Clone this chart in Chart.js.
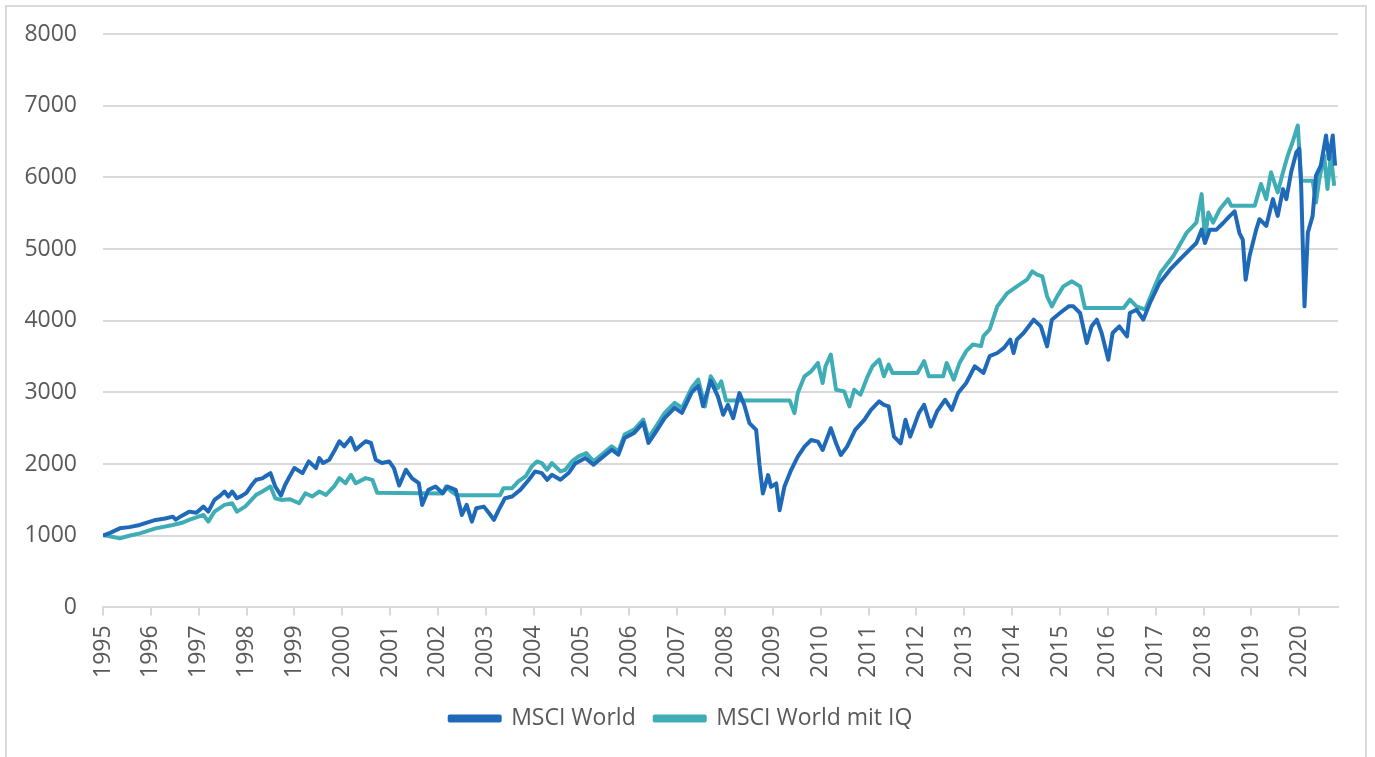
<!DOCTYPE html>
<html>
<head>
<meta charset="utf-8">
<script src="https://cdn.jsdelivr.net/npm/chart.js@4/dist/chart.umd.min.js"></script>
<style>
html,body{margin:0;padding:0;background:#fff;}
#wrap{position:relative;width:1375px;height:757px;overflow:hidden;}
#frame{position:absolute;left:5px;top:5px;width:1362px;height:800px;border:2px solid #d9d9d9;box-sizing:border-box;}
canvas{position:absolute;left:0;top:0;}
</style>
</head>
<body>
<div id="wrap"><div id="frame"></div><canvas id="c" width="1375" height="757"></canvas></div>
<script>
// ---- Data ----
const seriesNames = ["MSCI World", "MSCI World mit IQ"];

const worldDates = [1995.00,1995.15,1995.35,1995.55,1995.77,1995.95,1996.10,1996.30,1996.46,1996.52,1996.65,1996.80,1996.95,1997.10,1997.20,1997.33,1997.45,1997.54,1997.62,1997.70,1997.80,1997.90,1998.00,1998.10,1998.20,1998.33,1998.42,1998.50,1998.60,1998.72,1998.80,1998.90,1999.00,1999.17,1999.30,1999.45,1999.52,1999.60,1999.73,1999.83,1999.94,2000.04,2000.18,2000.28,2000.40,2000.49,2000.60,2000.70,2000.83,2000.98,2001.08,2001.19,2001.33,2001.46,2001.60,2001.67,2001.80,2001.95,2002.10,2002.20,2002.37,2002.50,2002.60,2002.71,2002.80,2002.96,2003.07,2003.17,2003.27,2003.40,2003.55,2003.72,2003.90,2004.03,2004.17,2004.28,2004.38,2004.56,2004.73,2004.87,2005.08,2005.25,2005.42,2005.63,2005.77,2005.90,2006.10,2006.29,2006.40,2006.54,2006.74,2006.95,2007.10,2007.30,2007.44,2007.54,2007.70,2007.85,2007.96,2008.06,2008.17,2008.30,2008.40,2008.51,2008.65,2008.72,2008.79,2008.90,2008.96,2009.07,2009.14,2009.24,2009.38,2009.52,2009.66,2009.80,2009.94,2010.04,2010.21,2010.32,2010.42,2010.55,2010.72,2010.91,2011.05,2011.22,2011.32,2011.42,2011.53,2011.67,2011.77,2011.87,2012.05,2012.16,2012.30,2012.43,2012.60,2012.74,2012.87,2013.04,2013.22,2013.40,2013.53,2013.69,2013.83,2013.96,2014.03,2014.10,2014.24,2014.45,2014.60,2014.73,2014.83,2015.00,2015.18,2015.28,2015.42,2015.56,2015.66,2015.77,2015.87,2016.01,2016.10,2016.24,2016.40,2016.46,2016.60,2016.74,2016.88,2017.08,2017.30,2017.50,2017.71,2017.85,2017.96,2018.03,2018.13,2018.27,2018.41,2018.54,2018.65,2018.75,2018.82,2018.88,2018.96,2019.10,2019.17,2019.31,2019.45,2019.55,2019.66,2019.73,2019.83,2019.94,2020.00,2020.04,2020.11,2020.18,2020.28,2020.35,2020.45,2020.56,2020.62,2020.70,2020.75];
const worldValues = [1000,1040,1103,1120,1150,1190,1220,1240,1266,1225,1280,1336,1320,1406,1336,1500,1560,1617,1547,1617,1523,1556,1600,1700,1780,1800,1840,1874,1687,1560,1700,1827,1944,1874,2037,1944,2084,2014,2060,2177,2318,2248,2364,2200,2270,2318,2294,2060,2014,2037,1944,1700,1920,1800,1734,1430,1640,1687,1593,1687,1640,1290,1430,1196,1383,1406,1313,1220,1360,1523,1547,1640,1780,1897,1874,1780,1850,1780,1874,2009,2084,1990,2084,2200,2130,2364,2434,2575,2294,2434,2645,2785,2715,2996,3090,2808,3160,2944,2687,2827,2640,2990,2827,2570,2477,1986,1589,1846,1682,1729,1355,1682,1916,2103,2243,2336,2313,2196,2500,2290,2126,2243,2477,2617,2757,2874,2827,2804,2383,2290,2617,2383,2710,2827,2523,2734,2897,2757,2990,3131,3364,3271,3505,3549,3621,3735,3549,3738,3828,4014,3921,3642,4014,4107,4200,4200,4107,3688,3921,4014,3828,3456,3828,3921,3781,4107,4153,4014,4247,4526,4712,4851,4991,5084,5270,5084,5270,5270,5363,5456,5526,5223,5130,4572,4898,5270,5416,5322,5696,5463,5836,5696,6070,6350,6400,5883,4200,5229,5463,6023,6163,6584,6257,6584,6163];

const iqDates = [1995.00,1995.35,1995.55,1995.77,1996.10,1996.46,1996.65,1996.80,1997.10,1997.20,1997.33,1997.54,1997.70,1997.80,1997.97,1998.20,1998.33,1998.50,1998.60,1998.72,1998.90,1999.10,1999.23,1999.37,1999.52,1999.66,1999.83,1999.94,2000.07,2000.18,2000.28,2000.49,2000.63,2000.73,2002.10,2002.17,2002.28,2002.40,2003.30,2003.37,2003.55,2003.68,2003.83,2003.96,2004.07,2004.17,2004.28,2004.38,2004.56,2004.66,2004.80,2004.94,2005.10,2005.25,2005.42,2005.63,2005.77,2005.90,2006.10,2006.29,2006.40,2006.54,2006.74,2006.95,2007.10,2007.30,2007.44,2007.58,2007.70,2007.85,2007.92,2008.02,2009.35,2009.45,2009.52,2009.66,2009.80,2009.94,2010.04,2010.10,2010.21,2010.32,2010.49,2010.60,2010.70,2010.83,2010.98,2011.08,2011.22,2011.32,2011.42,2011.50,2012.02,2012.16,2012.26,2012.56,2012.63,2012.78,2012.90,2013.04,2013.18,2013.35,2013.40,2013.53,2013.69,2013.90,2014.10,2014.31,2014.42,2014.52,2014.63,2014.73,2014.83,2014.94,2015.07,2015.25,2015.42,2015.52,2016.33,2016.46,2016.60,2016.78,2016.95,2017.10,2017.37,2017.65,2017.85,2017.96,2018.03,2018.10,2018.20,2018.34,2018.51,2018.58,2019.07,2019.20,2019.31,2019.41,2019.55,2019.66,2019.76,2019.86,2019.97,2020.04,2020.28,2020.35,2020.42,2020.52,2020.59,2020.66,2020.73];
const iqValues = [1010,963,1000,1033,1103,1150,1180,1220,1290,1196,1336,1430,1453,1336,1406,1570,1617,1687,1523,1500,1510,1453,1593,1547,1617,1570,1687,1804,1733,1850,1733,1804,1780,1600,1590,1687,1617,1565,1565,1663,1663,1757,1827,1967,2037,2014,1920,2014,1897,1920,2037,2107,2154,2037,2130,2248,2177,2411,2481,2621,2364,2505,2715,2855,2785,3060,3178,2804,3224,3060,3154,2888,2888,2710,2990,3224,3294,3411,3131,3364,3528,3037,3014,2804,3037,2967,3224,3364,3458,3224,3388,3271,3271,3435,3224,3224,3411,3178,3411,3575,3668,3645,3785,3880,4200,4386,4479,4572,4688,4642,4619,4340,4200,4340,4479,4549,4479,4177,4177,4293,4200,4153,4433,4668,4902,5229,5369,5766,5136,5509,5369,5556,5696,5603,5603,5907,5696,6070,5790,6070,6304,6490,6724,5953,5953,5650,5977,6304,5836,6304,5883];

const xMin = 1995, xMax = 2020.81, xStep = 1;
const yMin = 0, yMax = 8000, yStep = 1000;

// ---- Chart ----
function toPoints(xs, ys){ return xs.map((x,i)=>({x:x, y:ys[i]})); }

const blue = '#1f69b9';
const teal = '#3fadb5';
const txt = '#595959';
const grid = '#d9d9d9';
Chart.defaults.font.family = "'Open Sans', sans-serif";

new Chart(document.getElementById('c'), {
  type: 'line',
  data: {
    datasets: [
      { label: seriesNames[0], data: toPoints(worldDates, worldValues), borderColor: blue, backgroundColor: blue, borderWidth: 4, pointRadius: 0, tension: 0, borderJoinStyle: 'round' },
      { label: seriesNames[1], data: toPoints(iqDates, iqValues), borderColor: teal, backgroundColor: teal, borderWidth: 4, pointRadius: 0, tension: 0, borderJoinStyle: 'round' }
    ]
  },
  options: {
    responsive: false,
    animation: false,
    layout: { padding: { left: 24, top: 34, right: 37, bottom: 17 } },
    plugins: {
      tooltip: { enabled: false },
      legend: {
        position: 'bottom',
        labels: { boxWidth: 50, boxHeight: 4, color: txt, font: { size: 23 }, padding: 19 }
      }
    },
    scales: {
      x: {
        type: 'linear', min: xMin, max: xMax,
        afterFit: s => { s.paddingLeft = 0; s.paddingRight = 0; },
        ticks: { stepSize: xStep, includeBounds: false, autoSkip: false, maxRotation: 90, minRotation: 90, color: txt, font: { size: 23 }, padding: 10,
          callback: v => String(v) },
        grid: { drawOnChartArea: false, drawTicks: true, tickLength: 8, color: grid, lineWidth: 2 },
        border: { display: true, color: grid, width: 2 }
      },
      y: {
        min: yMin, max: yMax,
        afterFit: s => { s.width = 79; s.paddingTop = 0; s.paddingBottom = 0; },
        ticks: { stepSize: yStep, color: txt, font: { size: 23 }, padding: 26, callback: v => String(v) },
        grid: { color: grid, lineWidth: 2, drawTicks: false },
        border: { display: false }
      }
    }
  }
});
</script>
</body>
</html>
